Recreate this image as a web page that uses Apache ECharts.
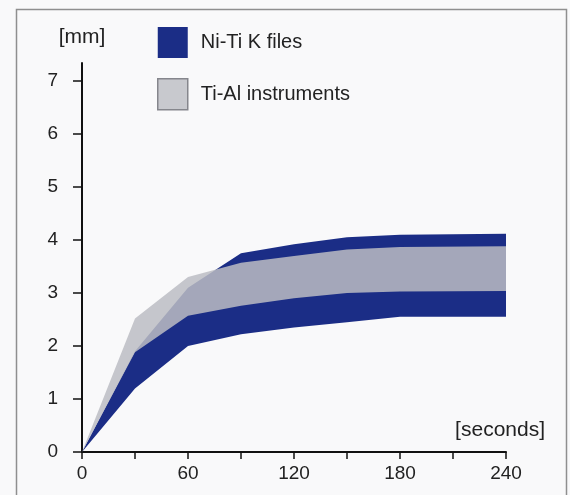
<!DOCTYPE html>
<html>
<head>
<meta charset="utf-8">
<script src="https://cdn.jsdelivr.net/npm/echarts@6/dist/echarts.min.js"></script>
<style>
  html, body { margin: 0; padding: 0; background: #f9f9fa; }
  #chart { width: 570px; height: 495px; }
</style>
</head>
<body>
<div id="chart"></div>
<script>
// seconds
const times = [0, 30, 60, 90, 120, 150, 180, 240]
// Ni-Ti K files band [mm]
const niTiLow = [0, 1.2, 2.0, 2.22, 2.35, 2.45, 2.55, 2.55]
const niTiHigh = [0, 1.9, 3.1, 3.75, 3.92, 4.05, 4.1, 4.12]
// Ti-Al instruments band [mm]
const tiAlLow = [0, 1.88, 2.57, 2.76, 2.9, 3.0, 3.03, 3.04]
const tiAlHigh = [0, 2.52, 3.3, 3.57, 3.7, 3.82, 3.87, 3.88]

const yTicks = [0, 1, 2, 3, 4, 5, 6, 7]
const xTicks = [0, 30, 60, 90, 120, 150, 180, 210, 240]
const xLabels = [0, 60, 120, 180, 240]

const font = '"Liberation Sans", Arial, sans-serif'
const ink = '#222'
const navy = '#1b2d86'
const grey = 'rgba(188, 189, 195, 0.85)'

// band polygon: along the upper edge, back along the lower edge
function bandSeries(name, low, high, fill) {
  return {
    name: name,
    type: 'custom',
    coordinateSystem: 'cartesian2d',
    itemStyle: { color: fill },
    data: times.map((t, i) => [t, low[i], high[i]]),
    encode: { x: 0, y: [1, 2] },
    renderItem: function (params, api) {
      if (params.dataIndex !== 0) return null
      const top = times.map((t, i) => api.coord([t, high[i]]))
      const bottom = times.map((t, i) => api.coord([t, low[i]])).reverse()
      return {
        type: 'polygon',
        shape: { points: top.concat(bottom) },
        style: { fill: fill }
      }
    }
  }
}

const chart = echarts.init(document.getElementById('chart'))

chart.setOption({
  animation: false,
  backgroundColor: '#f9f9fa',
  textStyle: { fontFamily: font },
  grid: { left: 82, right: 64, top: 63, bottom: 43 },
  legend: {
    orient: 'vertical',
    left: 152,
    top: 22,
    itemWidth: 30,
    itemHeight: 31,
    itemGap: 20,
    icon: 'rect',
    selectedMode: false,
    textStyle: { fontSize: 20, color: ink, fontFamily: font, padding: [0, 0, 0, 8] },
    data: [
      { name: 'Ni-Ti K files', itemStyle: { color: navy } },
      { name: 'Ti-Al instruments', itemStyle: { color: '#c8c9ce', borderColor: '#85868c', borderWidth: 1.5 } }
    ]
  },
  xAxis: {
    type: 'value',
    min: 0,
    max: 240,
    axisLine: { show: true, lineStyle: { color: '#111', width: 2 } },
    axisTick: { show: true, customValues: xTicks, length: 7, lineStyle: { color: '#111', width: 1.5 } },
    axisLabel: { customValues: xLabels, margin: 12, fontSize: 19, color: ink, fontFamily: font },
    splitLine: { show: false }
  },
  yAxis: {
    type: 'value',
    min: 0,
    max: 7.34,
    name: '[mm]',
    nameLocation: 'end',
    nameGap: 15,
    nameTextStyle: { fontSize: 21, color: ink, fontFamily: font },
    axisLine: { show: true, lineStyle: { color: '#111', width: 2 } },
    axisTick: { show: true, customValues: yTicks, length: 9, lineStyle: { color: '#111', width: 1.5 } },
    axisLabel: { customValues: yTicks, margin: 24, fontSize: 19, color: ink, fontFamily: font },
    splitLine: { show: false }
  },
  graphic: [
    {
      type: 'rect',
      silent: true,
      z: -1,
      shape: { x: 16.5, y: 9.5, width: 550, height: 520 },
      style: { fill: 'none', stroke: '#8f8f8f', lineWidth: 1.5 }
    },
    {
      type: 'text',
      x: 545,
      y: 430,
      style: { text: '[seconds]', fontSize: 21, fontFamily: font, fill: ink, align: 'right', verticalAlign: 'middle' }
    }
  ],
  series: [
    bandSeries('Ni-Ti K files', niTiLow, niTiHigh, navy),
    bandSeries('Ti-Al instruments', tiAlLow, tiAlHigh, grey)
  ]
})
</script>
</body>
</html>
